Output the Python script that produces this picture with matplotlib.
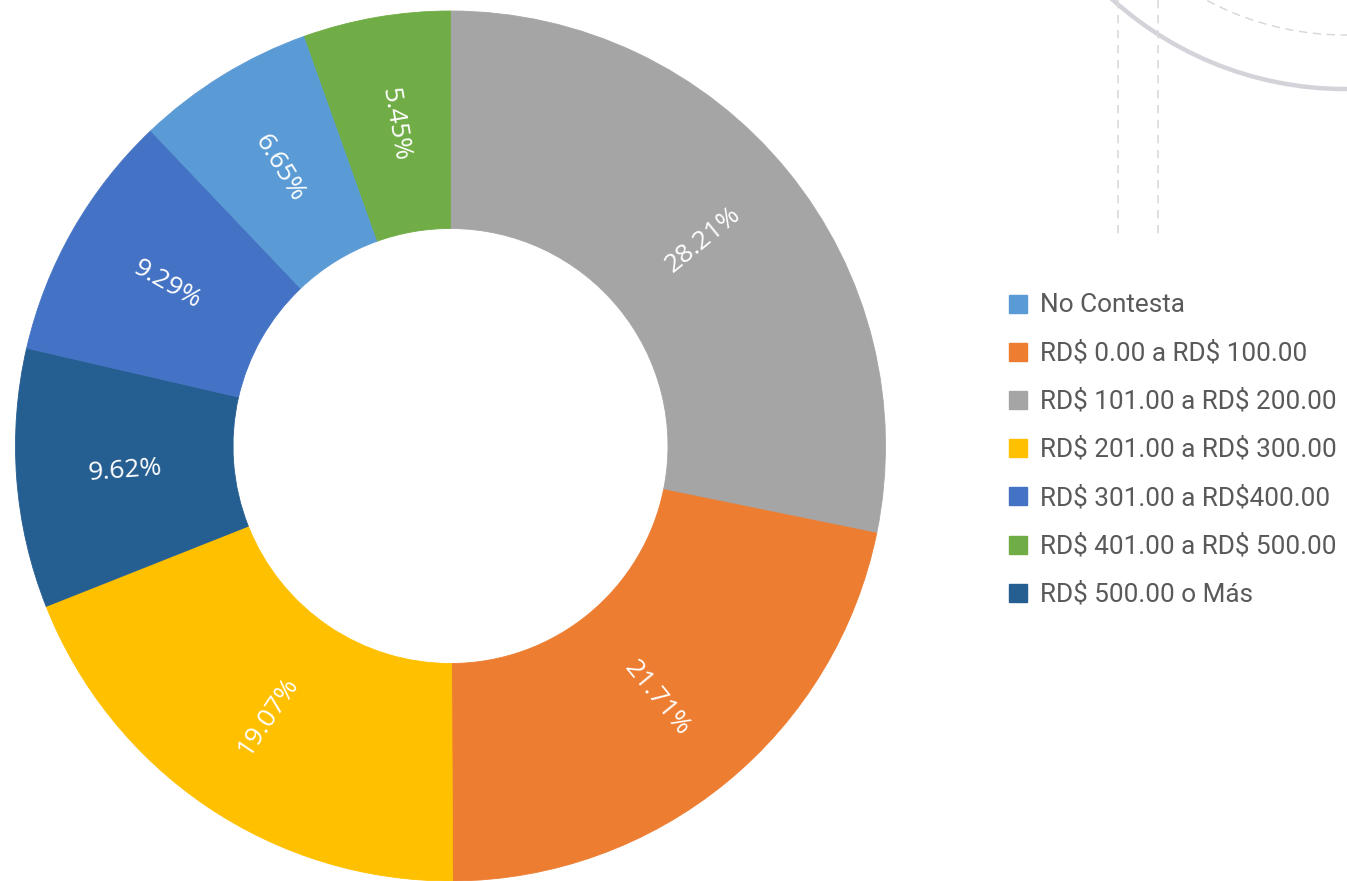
import numpy as np
import matplotlib
matplotlib.use("Agg")
import matplotlib.pyplot as plt
from matplotlib.patches import Rectangle, Circle

# Spending ranges and their share of respondents (%)
categories = [
    "No Contesta",
    "RD$ 0.00 a RD$ 100.00",
    "RD$ 101.00 a RD$ 200.00",
    "RD$ 201.00 a RD$ 300.00",
    "RD$ 301.00 a RD$400.00",
    "RD$ 401.00 a RD$ 500.00",
    "RD$ 500.00 o Más",
]
shares = [6.65, 21.71, 28.21, 19.07, 9.29, 5.45, 9.62]
colors = ["#5B9BD5", "#ED7D31", "#A5A5A5", "#FFC000", "#4472C4", "#70AD47", "#255E91"]

W, H = 1347, 881
fig = plt.figure(figsize=(W / 100, H / 100), dpi=100)
fig.patch.set_facecolor("white")

# Decorative background strokes, in pixel coordinates
bg = fig.add_axes([0, 0, 1, 1])
bg.set_xlim(0, W)
bg.set_ylim(H, 0)
bg.axis("off")
bg.add_patch(Circle((1345, -258), 347, fill=False, ec="#d3d3da", lw=3.2))
bg.add_patch(Circle((1345, -258), 293, fill=False, ec="#d6d6d6", lw=1.0,
                    ls=(0, (6, 4))))
for x in (1118, 1158):
    bg.plot([x, x], [0, 240], color="#dadada", lw=1.2, ls=(0, (5, 4)))

# Donut, slices ordered from largest to smallest, clockwise from the top
order = np.argsort(shares)[::-1]
vals = [shares[i] for i in order]
cols = [colors[i] for i in order]

R, cx, cy = 435, 450.5, 446
ax = fig.add_axes([(cx - R) / W, (H - cy - R) / H, 2 * R / W, 2 * R / H])
wedges, _ = ax.pie(vals, colors=cols, startangle=90, counterclock=False,
                   radius=1.0,
                   wedgeprops=dict(width=0.5, linewidth=0.6, edgecolor="none"))
for w, c in zip(wedges, cols):
    w.set_edgecolor(c)
ax.set_xlim(-1, 1)
ax.set_ylim(-1, 1)
ax.set_aspect("equal")

total = sum(vals)
cum = 0.0
for v in vals:
    mid = (cum + v / 2) / total
    cum += v
    theta = 90 - 360 * mid
    t = np.deg2rad(theta)
    rot = (theta + 180) % 360 - 180
    if rot > 90:
        rot -= 180
    elif rot < -90:
        rot += 180
    ax.text(0.75 * np.cos(t), 0.75 * np.sin(t), f"{v:.2f}%",
            rotation=rot, rotation_mode="anchor", ha="center", va="center",
            color="white", fontsize=19,
            family=["Liberation Sans Narrow", "Open Sans", "DejaVu Sans"])

# Legend in category order
for i, (lab, col) in enumerate(zip(categories, colors)):
    y = 303.5 + 48.2 * i
    bg.add_patch(Rectangle((1009, y - 9), 18, 18, color=col))
    bg.text(1040, y + 1.5, lab, ha="left", va="center", fontsize=18.8,
            color="#595959", family=["Roboto", "DejaVu Sans"],
            parse_math=False)

fig.savefig("out.png", dpi=100, facecolor="white")
